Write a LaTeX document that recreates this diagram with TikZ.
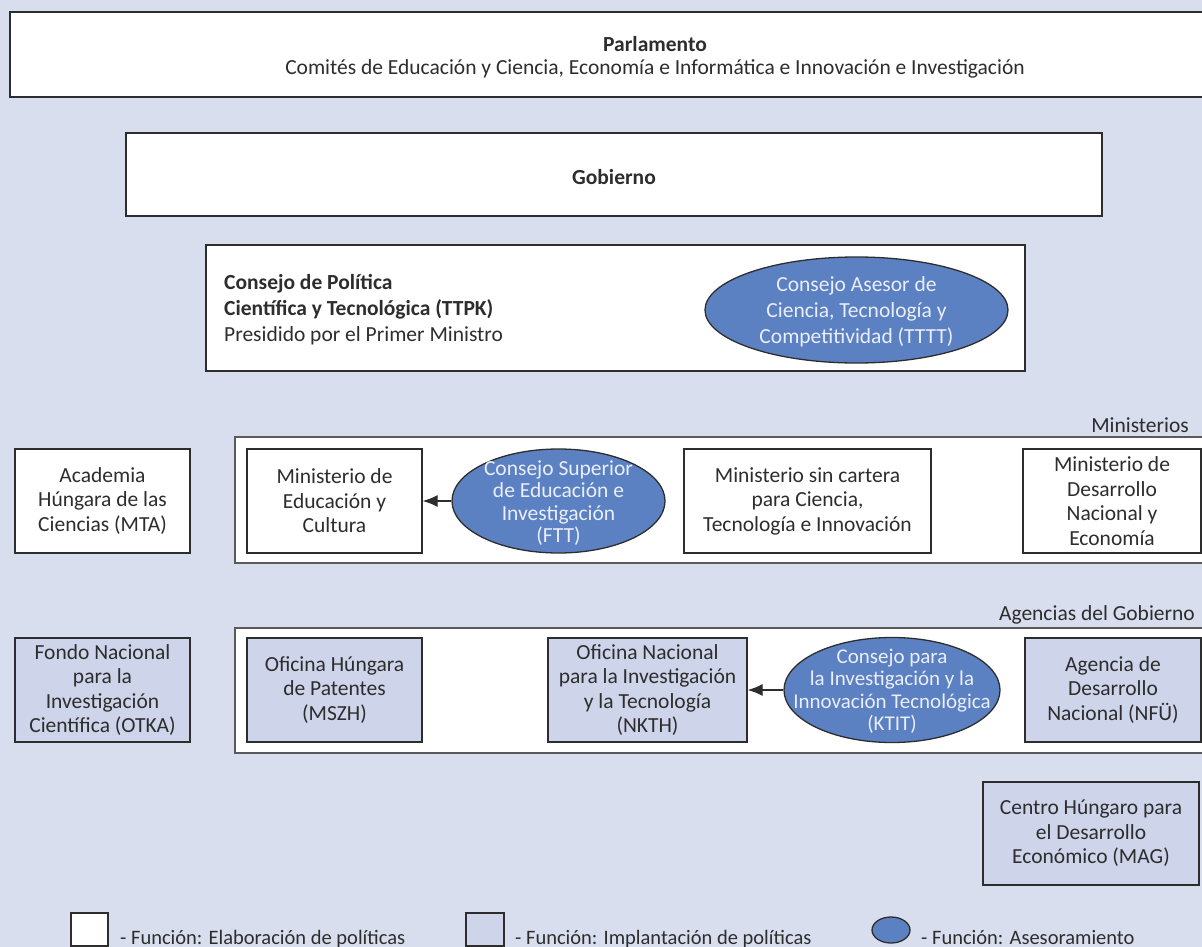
\documentclass[tikz,border=0pt]{standalone}
\usepackage{fontspec}
\setmainfont{Carlito}
\usetikzlibrary{arrows.meta,shapes.geometric}
\definecolor{bg}{RGB}{217,222,239}
\definecolor{impl}{RGB}{206,212,234}
\definecolor{adv}{RGB}{92,129,194}
\definecolor{advtxt}{RGB}{234,238,251}
\definecolor{ink}{RGB}{45,45,45}
\definecolor{edge}{RGB}{45,45,45}
\definecolor{cont}{RGB}{90,90,90}
\begin{document}
\begin{tikzpicture}[x=1pt,y=-1pt,
  txt/.style={font=\fontsize{21.5}{24.5}\selectfont, text=ink, align=center},
  legtxt/.style={font=\fontsize{20.5}{24}\selectfont, text=ink, inner sep=0pt, anchor=base west},
  polbox/.style={txt, draw=edge, line width=1.3pt, fill=white, inner sep=0pt},
  implbox/.style={polbox, fill=impl},
  advell/.style={ellipse, draw=edge, line width=1.3pt, fill=adv, inner sep=0pt},
  advtext/.style={font=\fontsize{21.5}{22.5}\selectfont, text=advtxt, align=center, inner sep=0pt},
  frame/.style={draw=cont, line width=2pt, fill=white, inner sep=0pt},
  arr/.style={-{Latex[length=15pt,width=12pt]}, line width=1.3pt, draw=edge},
]
\useasboundingbox[fill=bg] (0,0) rectangle (1202,947);

% Parlamento
\node[polbox, minimum width=1290pt, minimum height=85pt,
  label={[txt, font=\fontsize{21.5}{23}\selectfont, inner sep=0pt, yshift=-2.5pt]center:{\textbf{Parlamento}\\Comités de Educación y Ciencia, Economía e Informática e Innovación e Investigación}}] (parl) at (655,54.5) {};

% Gobierno
\node[polbox, minimum width=976pt, minimum height=83pt,
  label={[txt, inner sep=0pt, yshift=-2.5pt]center:{\textbf{Gobierno}}}] (gob) at (614,174.5) {};

% TTPK
\node[polbox, minimum width=819pt, minimum height=126pt] (ttpk) at (615.5,308) {};
\node[txt, align=left, anchor=west, font=\fontsize{21.5}{26}\selectfont, inner sep=0pt] (ttpktxt) at (224,310)
  {\textbf{Consejo de Política}\\\textbf{Científica y Tecnológica (TTPK)}\\Presidido por el Primer Ministro};
\node[advell, minimum width=303pt, minimum height=106pt,
  label={[advtext, font=\fontsize{21.5}{26}\selectfont, yshift=-1.5pt]center:{Consejo Asesor de\\Ciencia, Tecnología y\\Competitividad (TTTT)}}] (tttt) at (856.5,310) {};

% Ministerios
\node[txt, anchor=east, inner sep=0pt] (minlbl) at (1189,425) {Ministerios};
\node[frame, minimum width=980pt, minimum height=126pt] (minis) at (725,500) {};
\node[polbox, minimum width=175pt, minimum height=104pt] (mta) at (102.5,501) {Academia\\Húngara de las\\Ciencias (MTA)};
\node[polbox, minimum width=175pt, minimum height=104pt] (mec) at (334.5,501) {Ministerio de\\Educación y\\Cultura};
\node[advell, minimum width=213pt, minimum height=104pt,
  label={[advtext, yshift=-2pt]center:{Consejo Superior\\de Educación e\\Investigación\\(FTT)}}] (ftt) at (558.5,501) {};
\node[polbox, minimum width=247pt, minimum height=104pt] (mctin) at (807.5,501) {Ministerio sin cartera\\para Ciencia,\\Tecnología e Innovación};
\node[polbox, minimum width=178pt, minimum height=104pt] (mdne) at (1112,501) {Ministerio de\\Desarrollo\\Nacional y\\Economía};
\draw[arr] (ftt.west) -- (mec.east);

% Agencias
\node[txt, anchor=east, inner sep=0pt] (aglbl) at (1195,615) {Agencias del Gobierno};
\node[frame, minimum width=980pt, minimum height=125pt] (agen) at (725,690.5) {};
\node[implbox, minimum width=175pt, minimum height=104pt] (otka) at (102.5,690) {Fondo Nacional\\para la\\Investigación\\Científica (OTKA)};
\node[implbox, minimum width=175pt, minimum height=104pt] (mszh) at (334.5,690) {Oficina Húngara\\de Patentes\\(MSZH)};
\node[implbox, minimum width=199pt, minimum height=104pt] (nkth) at (647.5,690) {Oficina Nacional\\para la Investigación\\y la Tecnología\\(NKTH)};
\node[advell, minimum width=216pt, minimum height=105pt,
  label={[advtext, font=\fontsize{21}{22.5}\selectfont, yshift=-1pt]center:{Consejo para\\la Investigación y la\\Innovación Tecnológica\\(KTIT)}}] (ktit) at (892,690) {};
\node[implbox, minimum width=176pt, minimum height=104pt] (nfu) at (1113,690) {Agencia de\\Desarrollo\\Nacional (NFÜ)};
\draw[arr] (ktit.west) -- (nkth.east);

% MAG
\node[implbox, minimum width=216pt, minimum height=103pt] (mag) at (1091,833.5) {Centro Húngaro para\\el Desarrollo\\Económico (MAG)};

% Leyenda
\node[polbox, minimum width=37pt, minimum height=33pt] (legpol) at (89.5,929.5) {};
\node[legtxt] (legpoltxt) at (120,944) {- Función: Elaboración de políticas};
\node[implbox, minimum width=38pt, minimum height=33pt] (legimp) at (485,929.5) {};
\node[legtxt] (legimptxt) at (515,944) {- Función: Implantación de políticas};
\node[advell, minimum width=38pt, minimum height=26pt] (legadv) at (891,930) {};
\node[legtxt] (legadvtxt) at (921,944) {- Función: Asesoramiento};
\end{tikzpicture}
\end{document}
